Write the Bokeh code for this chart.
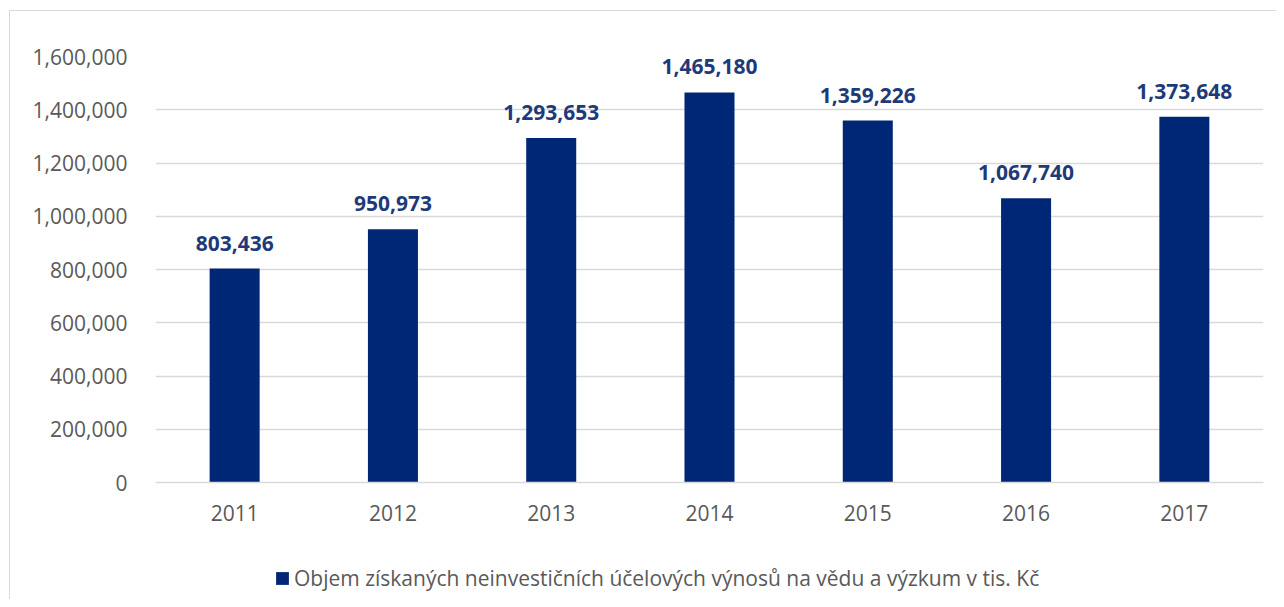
from bokeh.plotting import figure
from bokeh.models import (ColumnDataSource, FixedTicker, NumeralTickFormatter,
                          LabelSet, Legend, LegendItem, Range1d, FactorRange)
from bokeh.layouts import column
from bokeh.core.properties import value
from bokeh.embed import file_html
from bokeh.resources import INLINE

years = ["2011", "2012", "2013", "2014", "2015", "2016", "2017"]
values = [803436, 950973, 1293653, 1465180, 1359226, 1067740, 1373648]
y_ticks = [0, 200000, 400000, 600000, 800000, 1000000, 1200000, 1400000, 1600000]
series_name = "Objem získaných neinvestičních účelových výnosů na vědu a výzkum v tis. Kč"

BAR = "#002776"
LABEL = "#1F3A78"
TEXT = "#595959"
GRID = "#D9D9D9"
FONT = "Open Sans"

src = ColumnDataSource(dict(x=years, y=values, lbl=[f"{v:,}" for v in values]))

p = figure(x_range=FactorRange(*years, range_padding=0), y_range=Range1d(0, 1600000),
           width=1266, height=534, output_backend="svg", toolbar_location=None,
           min_border_left=145, min_border_right=13, min_border_top=45, min_border_bottom=63)
p.outline_line_color = None
p.background_fill_color = "white"
p.border_fill_color = "white"

r = p.vbar(x="x", top="y", width=0.316, source=src, fill_color=BAR, line_color=None)

labels = LabelSet(x="x", y="y", text="lbl", source=src, text_align="center",
                  text_baseline="alphabetic", y_offset=18, text_color=LABEL,
                  text_font=value(FONT), text_font_size="21px", text_font_style="bold")
p.add_layout(labels)

p.xgrid.visible = False
p.ygrid.grid_line_color = GRID
p.ygrid.grid_line_width = 1.5
p.yaxis.ticker = FixedTicker(ticks=y_ticks)
p.yaxis.formatter = NumeralTickFormatter(format="0,0")
for ax in (p.xaxis[0], p.yaxis[0]):
    ax.major_tick_line_color = None
    ax.minor_tick_line_color = None
    ax.major_label_text_font = FONT
    ax.major_label_text_font_size = "21px"
    ax.major_label_text_color = TEXT
p.yaxis.axis_line_color = None
p.yaxis.major_label_standoff = 22
p.xaxis.axis_line_color = GRID
p.xaxis.axis_line_width = 1.5
p.xaxis.major_label_standoff = 16

# legend strip below the chart (carrier glyph has zero height, only its legend swatch shows)
lf = figure(width=1266, height=54, x_range=Range1d(0, 1), y_range=Range1d(0, 1),
            output_backend="svg", toolbar_location=None, min_border=0)
lf.axis.visible = False
lf.grid.visible = False
lf.outline_line_color = None
lf.border_fill_color = "white"
lr = lf.vbar(x=[0.5], top=[0], width=0.3, fill_color=BAR, line_color=None)
legend = Legend(items=[LegendItem(label=series_name, renderers=[lr])],
                location=(119, 7), orientation="horizontal",
                glyph_width=16, glyph_height=16, label_standoff=4,
                label_text_font=FONT, label_text_font_size="21px", label_text_color=TEXT,
                border_line_color=None, background_fill_alpha=0, margin=0, padding=0)
lf.add_layout(legend, "center")

layout = column(p, lf, spacing=0)
layout.styles = {"border-left": "1px solid #D9D9D9", "border-top": "1px solid #D9D9D9",
                 "margin-left": "9px", "margin-top": "10px"}

open("out.html", "w").write(file_html(layout, INLINE))
